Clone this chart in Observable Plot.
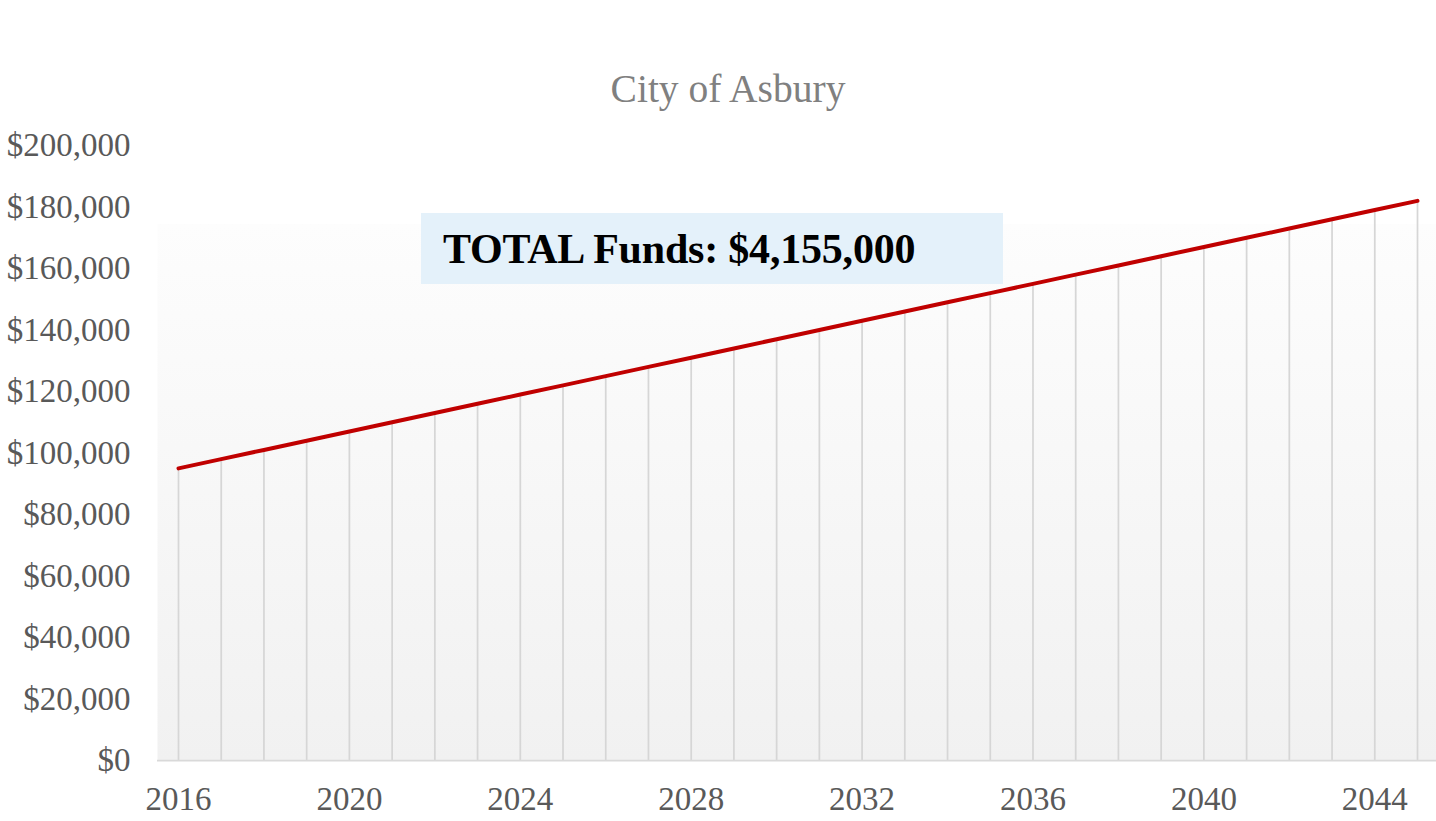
<!DOCTYPE html>
<html><head><meta charset="utf-8">
<script src="https://cdn.jsdelivr.net/npm/d3@7"></script>
<script src="https://cdn.jsdelivr.net/npm/@observablehq/plot@0.6"></script>
<style>
html,body{margin:0;padding:0;background:#fff;}
#wrap{position:relative;width:1436px;height:821px;overflow:hidden;}
#title{height:120px;box-sizing:border-box;padding-top:70px;padding-left:20px;text-align:center;font-family:"Liberation Serif","Times New Roman",serif;font-size:39.5px;line-height:39px;color:#808080;}
#note{position:absolute;left:421px;top:213px;width:582px;height:71px;background:#e4f1fa;box-sizing:border-box;padding-left:22px;padding-top:2px;font:bold 42px/69px "Liberation Serif","Times New Roman",serif;color:#000;white-space:nowrap;letter-spacing:-0.2px;}
#chart svg{display:block;overflow:visible;}
</style></head>
<body>
<div id="wrap">
  <div id="title">City of Asbury</div>
  <div id="chart"></div>
  <div id="note">TOTAL Funds: $4,155,000</div>
</div>
<script>
const years = [2016,2017,2018,2019,2020,2021,2022,2023,2024,2025,2026,2027,2028,2029,2030,
               2031,2032,2033,2034,2035,2036,2037,2038,2039,2040,2041,2042,2043,2044,2045];
const funds = [95000,98000,101000,104000,107000,110000,113000,116000,119000,122000,
               125000,128000,131000,134000,137000,140000,143000,146000,149000,152000,
               155000,158000,161000,164000,167000,170000,173000,176000,179000,182000];
const yTicks = [0,20000,40000,60000,80000,100000,120000,140000,160000,180000,200000];
const xTicks = [2016,2020,2024,2028,2032,2036,2040,2044];

const data = years.map((year, i) => ({year, value: funds[i]}));

const plot = Plot.plot({
  width: 1436, height: 701,
  marginTop: 25, marginBottom: 61, marginLeft: 178, marginRight: 19,
  style: {fontFamily: '"Liberation Serif", "Times New Roman", serif', fontSize: "33px", color: "#595959", background: "transparent"},
  x: {domain: [2016, 2045], ticks: xTicks, tickFormat: d => String(d), tickSize: 0, tickPadding: 26, label: null},
  y: {domain: [0, 200000], ticks: yTicks, tickFormat: d3.format("$,"), tickSize: 0, tickPadding: 48, label: null},
  marks: [
    Plot.frame({fill: "url(#bgGrad)", stroke: "none", insetLeft: -21, insetRight: -19}),
    Plot.ruleX(data, {x: "year", y1: 0, y2: "value", stroke: "#d6d6d6", strokeWidth: 1.75}),
    Plot.ruleY([0], {stroke: "#d9d9d9", strokeWidth: 1.75, insetLeft: -21, insetRight: -19}),
    Plot.line(data, {x: "year", y: "value", stroke: "#c00000", strokeWidth: 4, strokeLinecap: "round"})
  ]
});
d3.select(plot).insert("defs", ":first-child").html(
  '<linearGradient id="bgGrad" x1="0" y1="0" x2="0" y2="1">' +
  '<stop offset="0" stop-color="#ffffff"/><stop offset="0.127" stop-color="#ffffff"/>' +
  '<stop offset="0.127" stop-color="#fdfdfd"/><stop offset="1" stop-color="#f1f1f1"/></linearGradient>');
document.getElementById("chart").appendChild(plot);
</script>
</body></html>
